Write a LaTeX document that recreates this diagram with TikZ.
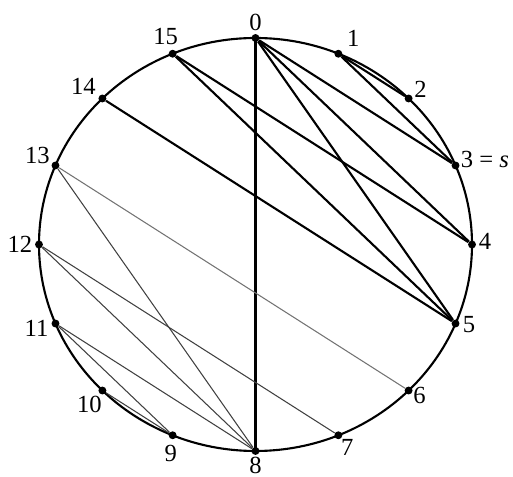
\documentclass[tikz,border=0pt]{standalone}
\usepackage{fontspec}
\setmainfont{Liberation Serif}
\usetikzlibrary{calc}

\begin{document}
\begin{tikzpicture}[
    dot/.style={circle,fill=black,inner sep=0pt,minimum size=4.5pt},
    heavy/.style={line width=1.2pt},
    light/.style={line width=0.6pt,black!75},
    lbl/.style={font=\fontsize{14}{16}\selectfont,inner sep=0pt}]

    \useasboundingbox (-5.11,-4.65) rectangle (5.15,4.89);

    \draw[heavy] (0,0) ellipse (4.33 and 4.13);

    \foreach \i in {0,...,15}
        \node[dot] (p\i) at ({90-22.5*\i}:4.33 and 4.13) {};

    % labels
    \foreach \i/\dx/\dy in {0/0/0.32, 1/0.30/0.30, 2/0.24/0.18, 4/0.26/0.07,
        5/0.27/-0.03, 6/0.22/-0.10, 7/0.18/-0.24, 8/0/-0.29, 9/-0.04/-0.36,
        10/-0.26/-0.28, 11/-0.38/-0.10, 12/-0.38/0, 13/-0.36/0.20,
        14/-0.38/0.24, 15/-0.14/0.34}
        \node[lbl] (l\i) at ($(p\i)+(\dx,\dy)$) {\i};
    \node[lbl,anchor=west] (l3) at ($(p3)+(0.1,0.12)$) {3 = \textit{s}};

    % heavy chords
    \draw[heavy,line width=1.4pt] (p0.center) -- (p8.center);
    \draw[heavy] (p0) -- (p3);
    \draw[heavy] (p0) -- (p4);
    \draw[heavy] (p0) -- (p5);
    \draw[heavy] (p1) -- (p2);
    \draw[heavy] (p1) -- (p3);
    \draw[heavy] (p15) -- (p4);
    \draw[heavy] (p15) -- (p5);
    \draw[heavy] (p14) -- (p5);

    % light chords
    \draw[light,black!55] (p13) -- (p6);
    \draw[light] (p13) -- (p8);
    \draw[light] (p12) -- (p7);
    \draw[light] (p12) -- (p8);
    \draw[light] (p11) -- (p8);
    \draw[light] (p11) -- (p9);
    \draw[light] (p10) -- (p9);

\end{tikzpicture}
\end{document}
